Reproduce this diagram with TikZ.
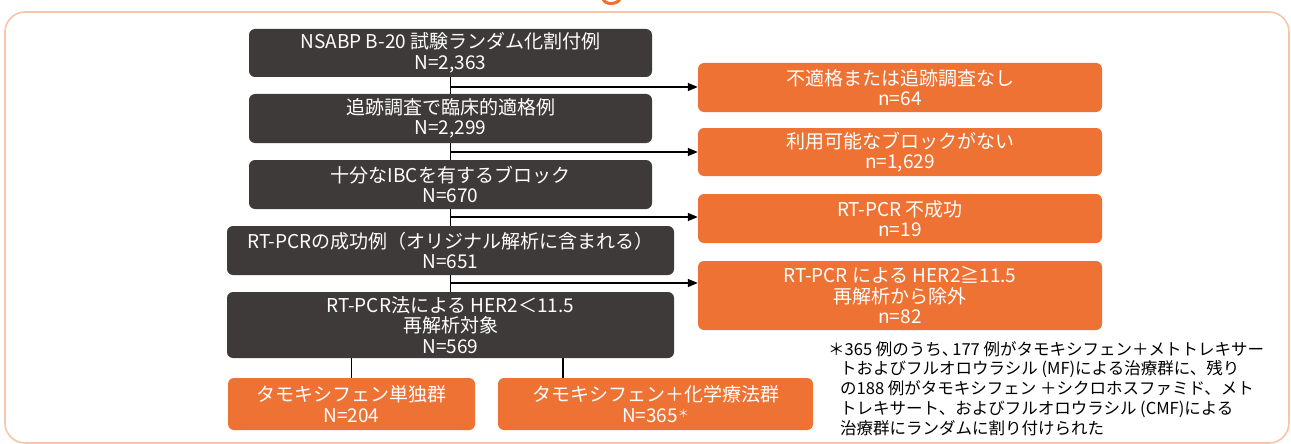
\documentclass[tikz,border=0pt]{standalone}
\usepackage{fontspec}
\setmainfont{Noto Sans CJK JP}
\usetikzlibrary{arrows.meta}
\definecolor{darkbox}{HTML}{3E3A39}
\definecolor{orangebox}{HTML}{ED7234}
\definecolor{framecol}{HTML}{F8C5A8}
\definecolor{gcol}{HTML}{E9742B}
\begin{document}
\begin{tikzpicture}[x=1pt,y=-1pt,
  box/.style={rounded corners=6pt, inner sep=0pt, align=center, text=white, font=\fontsize{19}{20.5}\selectfont},
  darkb/.style={box, fill=darkbox},
  orb/.style={box, fill=orangebox},
  conn/.style={line width=1.4pt, draw=black},
  arr/.style={conn, -{Triangle[length=10pt,width=8pt]}},
  notefont/.style={font=\fontsize{16.5}{19.8}\selectfont}]
\useasboundingbox (0,0) rectangle (1291,444);
% frame
\draw[framecol, line width=1.6pt, rounded corners=20pt] (5,12) rectangle (1289,443);
% clipped title glyph fragment
\draw[gcol, line width=3pt, line cap=round] (603,-1) .. controls (605,5) and (617,5) .. (620,-1);
% main column
\node[darkb, minimum width=403pt, minimum height=48pt] (b1) at (450.5,53) {NSABP B-20 試験ランダム化割付例\\N=2,363};
\node[darkb, minimum width=403pt, minimum height=49pt] (b2) at (450.5,118.5) {追跡調査で臨床的適格例\\N=2,299};
\node[darkb, minimum width=403pt, minimum height=49pt] (b3) at (450.5,184.5) {十分なIBCを有するブロック\\N=670};
\node[darkb, minimum width=447pt, minimum height=49pt] (b4) at (450.5,250.5) {RT-PCRの成功例（オリジナル解析に含まれる）\\N=651};
\node[darkb, minimum width=447pt, minimum height=66pt] (b5) at (450.5,325) {RT-PCR法による HER2＜11.5\\再解析対象\\N=569};
% exclusions
\node[orb, minimum width=404pt, minimum height=49pt] (o1) at (900,87.5) {不適格または追跡調査なし\\n=64};
\node[orb, minimum width=404pt, minimum height=48pt] (o2) at (900,152) {利用可能なブロックがない\\n=1,629};
\node[orb, minimum width=404pt, minimum height=49pt] (o3) at (900,218.5) {RT-PCR 不成功\\n=19};
\node[orb, minimum width=404pt, minimum height=69pt] (o4) at (900,295.5) {RT-PCR による HER2≧11.5\\再解析から除外\\n=82};
% arms
\node[orb, minimum width=247pt, minimum height=52pt] (l) at (351.5,404) {タモキシフェン単独群\\N=204};
\node[orb, minimum width=315pt, minimum height=52pt] (r) at (655.5,404) {タモキシフェン＋化学療法群\\N=365{\fontsize{11}{11}\selectfont\raisebox{5pt}{＊}}};
% junctions
\coordinate (j1) at (450.5,87);
\coordinate (j2) at (450.5,152);
\coordinate (j3) at (450.5,217);
\coordinate (j4) at (450.5,283);
\coordinate (jl) at (351.5,358);
\coordinate (jr) at (563,358);
% connectors
\draw[conn] (b1.south) -- (b2.north);
\draw[conn] (b2.south) -- (b3.north);
\draw[conn] (b3.south) -- (b4.north);
\draw[conn] (b4.south) -- (b5.north);
\draw[arr] (j1) -- (o1.west |- j1);
\draw[arr] (j2) -- (o2.west |- j2);
\draw[arr] (j3) -- (o3.west |- j3);
\draw[arr] (j4) -- (o4.west |- j4);
\draw[conn] (jl) -- (l.north);
\draw[conn] (jr) -- (r.north -| jr);
% footnote
\node[notefont, anchor=north west, inner sep=0pt, align=left] (note) at (828,341) {＊365 例のうち、\kern-6pt 177 例がタモキシフェン＋メトトレキサー\\\hspace*{12pt}トおよびフルオロウラシル (MF)による治療群に、残り\\\hspace*{12pt}の188 例がタモキシフェン ＋シクロホスファミド、メト\\\hspace*{12pt}トレキサート、およびフルオロウラシル (CMF)による\\\hspace*{12pt}治療群にランダムに割り付けられた};
\end{tikzpicture}
\end{document}
